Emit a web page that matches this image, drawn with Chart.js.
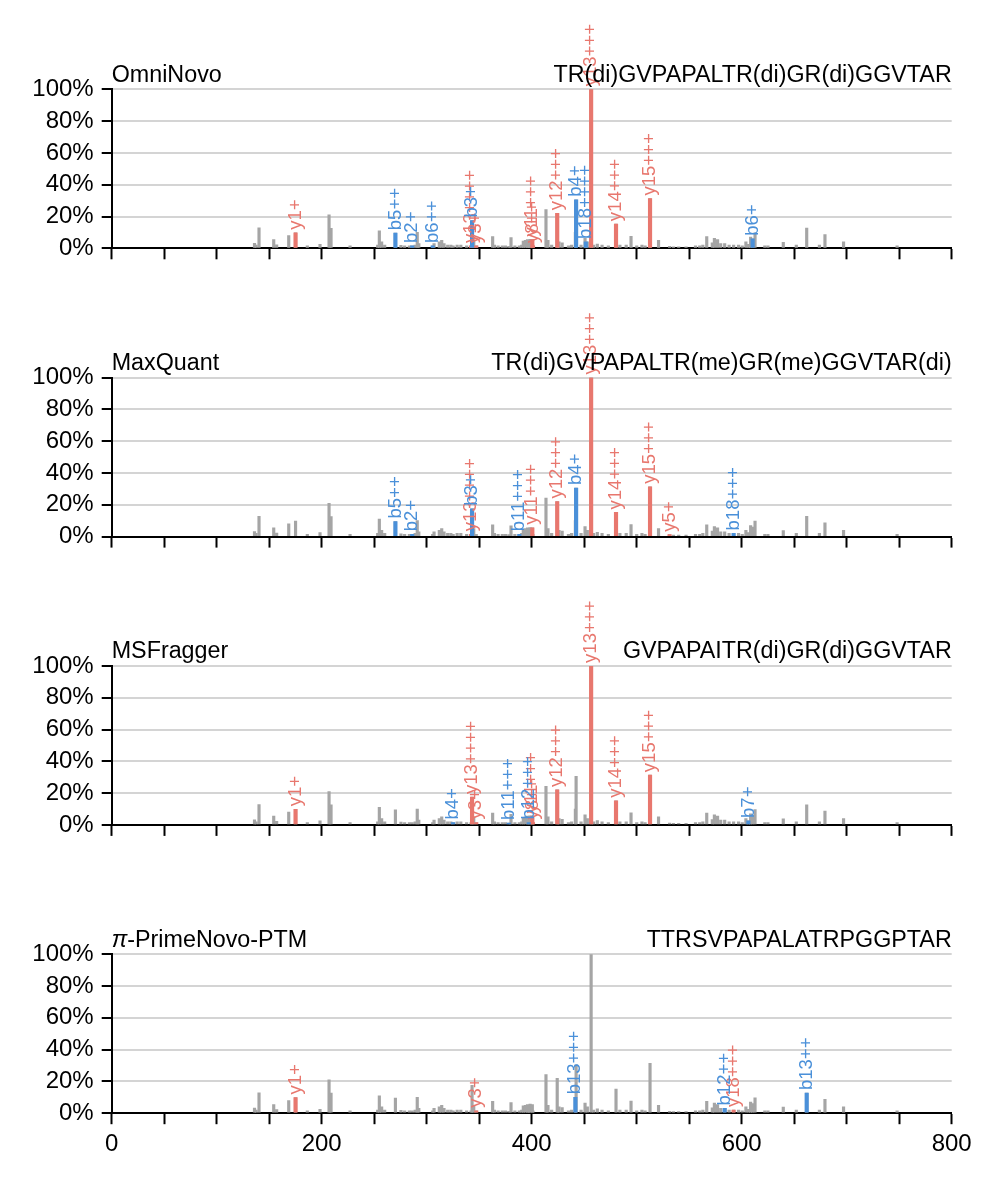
<!DOCTYPE html>
<html>
<head>
<meta charset="utf-8">
<script src="https://cdn.jsdelivr.net/npm/chart.js@4/dist/chart.umd.min.js"></script>
<style>
  body { margin: 0; background: #fff; }
  #wrap { position: relative; width: 998px; height: 1184px; overflow: hidden; }
  canvas { position: absolute; left: 0; }
</style>
</head>
<body>
<div id="wrap">
  <canvas id="c0" width="998" height="288" style="top:0px"></canvas>
  <canvas id="c1" width="998" height="288" style="top:288px"></canvas>
  <canvas id="c2" width="998" height="288" style="top:576px"></canvas>
  <canvas id="c3" width="998" height="320" style="top:864px"></canvas>
</div>
<script>
// 스펙트럼 (모든 패널 공통, m/z 와 상대강도 %)
const peakMz = [136.0, 137.5, 140.3, 154.3, 157.1, 168.6, 175.1, 186.3, 198.4, 207.0, 208.9, 227.0,
  253.3, 254.9, 257.1, 260.0, 270.2, 275.5, 279.0, 283.5, 286.2, 289.0, 291.0, 292.5,
  305.7, 307.0, 312.0, 314.3, 316.5, 320.0, 323.0, 325.2, 329.0, 332.5, 338.0, 342.2, 343.2, 344.8, 347.2,
  362.8, 364.5, 368.0, 372.0, 375.0, 378.2, 380.3, 384.0, 388.2, 390.5, 392.0, 394.0, 396.0, 397.2, 398.5,
  400.6, 401.2, 413.6, 415.5, 419.0, 424.3, 426.0, 429.0, 435.0, 438.0, 441.6, 442.3, 447.0, 450.8, 453.0,
  456.6, 459.0, 462.5, 467.0, 473.0, 480.3, 484.0, 490.0, 494.6, 500.0, 505.0, 508.0, 512.7, 520.8,
  531.3, 535.0, 540.0, 547.0, 556.0, 560.0, 563.0, 566.7, 572.0, 574.0, 577.0, 580.0, 583.8, 588.0,
  592.3, 597.0, 600.5, 604.0, 606.4, 608.5, 610.4, 612.7, 622.0, 625.0, 639.6, 652.0, 661.9, 674.0,
  679.3, 697.0, 748.0];
const peakInt = [3.2, 2.0, 12.8, 5.5, 2.2, 8.0, 9.8, 1.5, 2.5, 21.0, 12.6, 1.5,
  2.0, 11.0, 4.0, 2.0, 9.5, 1.8, 1.5, 1.5, 1.5, 2.0, 10.0, 3.0,
  1.5, 3.0, 4.0, 5.0, 3.0, 2.0, 2.0, 1.5, 2.0, 2.0, 1.5, 1.5, 17.5, 5.0, 1.5,
  7.4, 2.0, 1.5, 1.5, 1.5, 1.2, 6.7, 1.5, 1.5, 2.0, 4.6, 5.0, 5.5, 1.5, 5.7,
  5.5, 1.5, 24.3, 5.0, 2.0, 22.0, 4.0, 3.5, 1.5, 2.0, 10.0, 30.5, 2.0, 6.3, 4.0,
  100, 2.0, 2.7, 2.0, 1.5, 15.2, 2.0, 2.0, 7.6, 1.5, 2.0, 1.5, 31.3, 5.0,
  1.2, 1.0, 1.0, 1.0, 1.5, 1.5, 2.0, 7.4, 3.4, 6.3, 5.5, 3.0, 3.0, 2.0,
  2.0, 2.0, 1.5, 4.0, 2.5, 7.0, 6.0, 9.7, 1.5, 1.5, 3.8, 2.0, 12.7, 2.0,
  8.7, 4.0, 1.5];

// 패널별 이름과 펩타이드 서열
const toolNames = ['OmniNovo', 'MaxQuant', 'MSFragger', '\u03c0-PrimeNovo-PTM'];
const peptides = ['TR(di)GVPAPALTR(di)GR(di)GGVTAR', 'TR(di)GVPAPALTR(me)GR(me)GGVTAR(di)',
  'GVPAPAITR(di)GR(di)GGVTAR', 'TTRSVPAPALATRPGGPTAR'];

// 매칭된 이온 (이름, m/z, 강도)
const omniIons = ['y1+', 'b5++', 'b2+', 'b6++', 'y13++++', 'b3+', 'y3+', 'y11+++', 'y8++', 'y12+++',
  'b4+', 'b18++++', 'y13+++', 'y14+++', 'y15+++', 'b6+'];
const omniMz = [175.1, 270.2, 286.2, 305.7, 342.2, 343.2, 347.2, 400.6, 401.2, 424.3,
  442.3, 451.5, 456.6, 480.3, 512.7, 610.4];
const omniInt = [9.8, 9.5, 1.5, 1.5, 1.5, 17.5, 1.5, 5.5, 1.5, 22.0, 30.5, 4.0, 100, 15.2, 31.3, 6.0];

const maxqIons = ['b5++', 'b2+', 'y13++++', 'b3+', 'b11+++', 'y11+++', 'y12+++', 'b4+', 'y13+++',
  'y14+++', 'y15+++', 'y5+', 'b18+++'];
const maxqMz = [270.2, 286.2, 342.2, 343.2, 388.2, 400.6, 424.3, 442.3, 456.6, 480.3, 512.7, 531.3, 592.3];
const maxqInt = [9.5, 1.5, 1.5, 17.5, 1.5, 5.5, 22.0, 30.5, 100, 15.2, 31.3, 1.2, 2.0];

const msfIons = ['y1+', 'b4+', 'y13++++', 'y3+', 'b11+++', 'b12+++', 'y11+++', 'y8++', 'y12+++',
  'y13+++', 'y14+++', 'y15+++', 'b7+'];
const msfMz = [175.1, 325.2, 343.2, 347.2, 378.2, 397.2, 400.6, 401.2, 424.3, 456.6, 480.3, 512.7, 606.4];
const msfInt = [9.8, 1.5, 17.5, 1.5, 1.2, 1.5, 5.5, 1.5, 22.0, 100, 15.2, 31.3, 2.5];

const primeIons = ['y1+', 'y3+', 'b13+++', 'b12++', 'y18+++', 'b13++'];
const primeMz = [175.1, 347.2, 441.6, 583.8, 592.3, 661.9];
const primeInt = [9.8, 1.5, 10.0, 3.0, 2.0, 12.7];

const yTicks = [0, 20, 40, 60, 80, 100];
const xLabels = [0, 200, 400, 600, 800];

const FONT = "'Liberation Sans', Arial, sans-serif";
const GRAY = '#a5a5a5';
const RED = '#e8776e';
const BLUE = '#4a90d9';

/**
 * 이온 라벨 + 패널 제목 그리기
 */
const annotatePlugin = {
    id: 'annotate',
    afterDatasetsDraw(chart) {
        const { ctx, chartArea, scales: { x, y } } = chart;
        const info = chart.options.plugins.annotate;
        ctx.save();
        ctx.font = '18.5px ' + FONT;
        ctx.textAlign = 'left';
        ctx.textBaseline = 'middle';
        [1, 2].forEach(di => {
            const ds = chart.data.datasets[di];
            ds.data.forEach(p => {
                const px = x.getPixelForValue(p.x);
                const py = y.getPixelForValue(p.y);
                ctx.save();
                ctx.translate(px, py - 3);
                ctx.rotate(-Math.PI / 2);
                ctx.fillStyle = ds.backgroundColor;
                ctx.fillText(p.ion, 0, 0);
                ctx.restore();
            });
        });

        // 제목
        const base = chartArea.top - 7.5;
        ctx.fillStyle = '#000';
        ctx.textBaseline = 'alphabetic';
        ctx.font = '23.3px ' + FONT;
        ctx.textAlign = 'left';
        if (info.name.startsWith('\u03c0')) {
            ctx.font = 'italic 23.3px ' + FONT;
            ctx.fillText('\u03c0', chartArea.left, base);
            const w = ctx.measureText('\u03c0').width;
            ctx.font = '23.3px ' + FONT;
            ctx.fillText(info.name.slice(1), chartArea.left + w, base);
        } else {
            ctx.fillText(info.name, chartArea.left, base);
        }
        ctx.textAlign = 'right';
        ctx.fillText(info.peptide, chartArea.right, base);
        ctx.restore();
    }
};

function buildPanel(idx, ions, ionMz, ionInt, showX) {
    const canvas = document.getElementById('c' + idx);
    const H = canvas.height;
    const top = 89.3 + 288.3 * idx - 288 * idx;
    const bottom = 248.3 + 288.3 * idx - 288 * idx;
    const XH = showX ? 60 : 30;

    const grayPts = peakMz.map((m, i) => ({ x: m, y: peakInt[i] }));
    const redPts = [], bluePts = [];
    ions.forEach((name, i) => {
        const pt = { x: ionMz[i], y: ionInt[i], ion: name };
        (name[0] === 'y' ? redPts : bluePts).push(pt);
    });

    return new Chart(canvas, {
        type: 'bar',
        data: {
            datasets: [
                { data: grayPts, backgroundColor: GRAY, barThickness: 2.5, order: 2 },
                { data: redPts, backgroundColor: RED, barThickness: 3.5, order: 1 },
                { data: bluePts, backgroundColor: BLUE, barThickness: 3.5, order: 0 },
            ],
        },
        options: {
            responsive: false,
            animation: false,
            devicePixelRatio: 1,
            grouped: false,
            layout: { padding: { top: top, left: 0, right: 46.3, bottom: H - bottom - XH } },
            plugins: {
                legend: { display: false },
                tooltip: { enabled: false },
                annotate: { name: toolNames[idx], peptide: peptides[idx] },
            },
            scales: {
                x: {
                    type: 'linear',
                    min: 0,
                    max: 800,
                    offset: false,
                    grid: {
                        offset: false,
                        drawOnChartArea: false,
                        tickLength: 11,
                        tickWidth: 2,
                        tickColor: '#000',
                    },
                    border: { color: '#000', width: 2 },
                    ticks: {
                        stepSize: 50,
                        autoSkip: false,
                        maxRotation: 0,
                        padding: 6,
                        color: '#000',
                        font: { size: 24, family: FONT },
                        callback: v => (showX && xLabels.includes(v)) ? String(v) : '',
                    },
                    afterFit: s => { s.height = XH; },
                },
                y: {
                    min: 0,
                    max: 100,
                    afterBuildTicks: s => { s.ticks = yTicks.map(v => ({ value: v })); },
                    grid: {
                        color: c => c.tick && c.tick.value === 0 ? 'rgba(0,0,0,0)' : '#d4d4d4',
                        lineWidth: 2,
                        tickColor: '#000',
                        tickLength: 10,
                        tickWidth: 2,
                    },
                    border: { color: '#000', width: 2 },
                    ticks: {
                        padding: 8,
                        color: '#000',
                        font: { size: 24, family: FONT },
                        callback: v => v + '%',
                    },
                    afterFit: s => { s.width = 111.7; },
                },
            },
        },
        plugins: [annotatePlugin],
    });
}

buildPanel(0, omniIons, omniMz, omniInt, false);
buildPanel(1, maxqIons, maxqMz, maxqInt, false);
buildPanel(2, msfIons, msfMz, msfInt, false);
buildPanel(3, primeIons, primeMz, primeInt, true);
</script>
</body>
</html>
